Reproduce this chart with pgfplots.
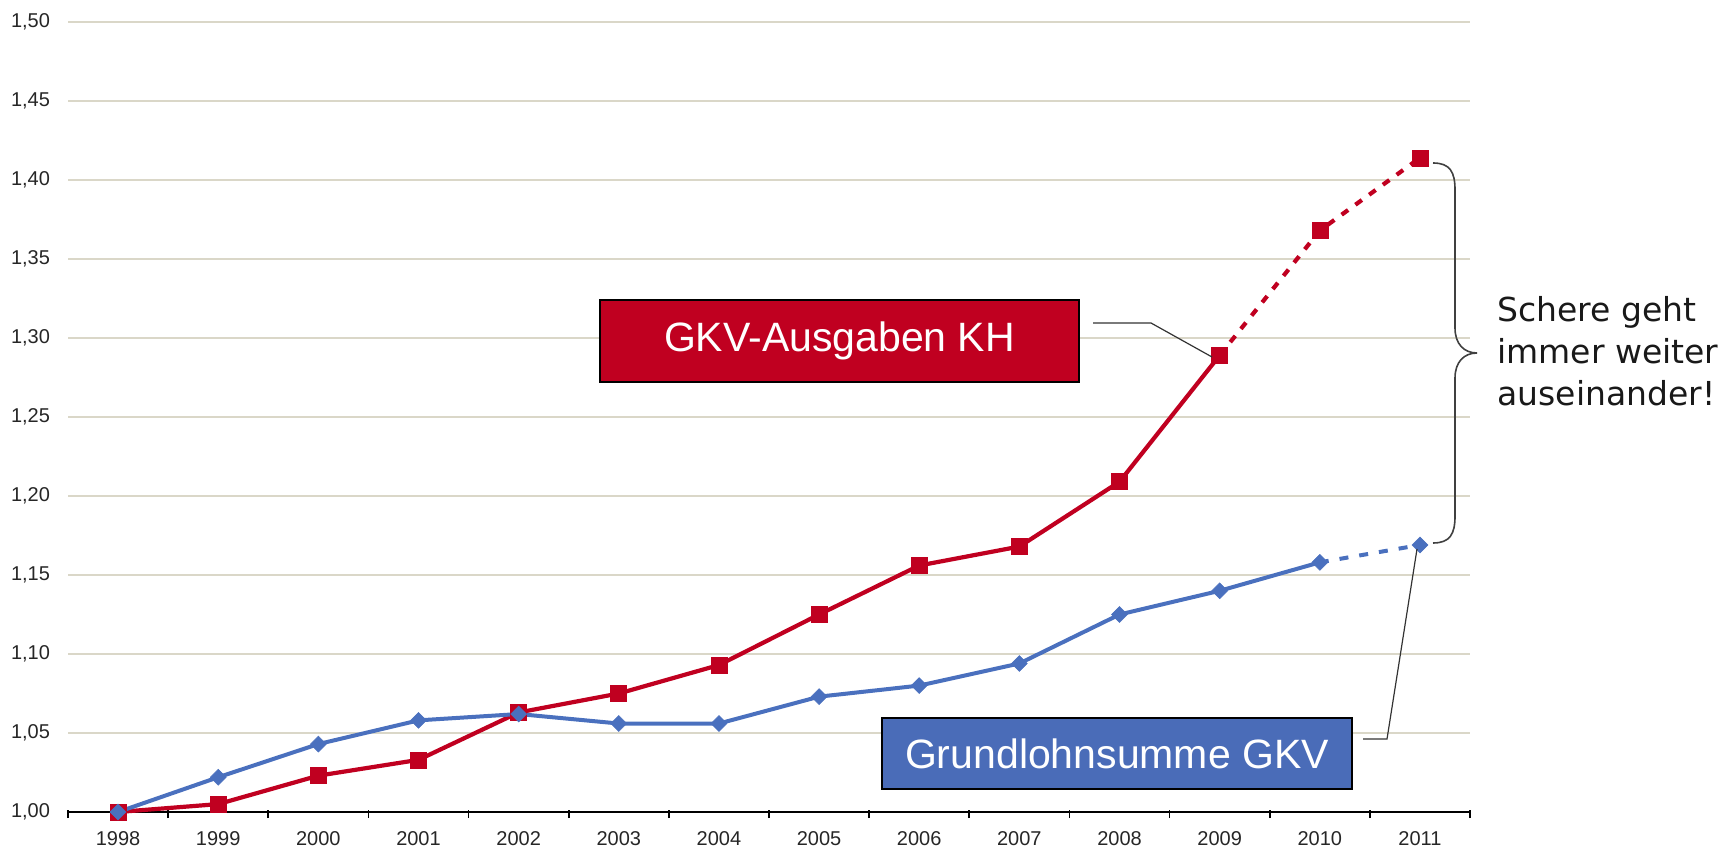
\documentclass[border=0pt]{standalone}
\usepackage{pgfplots}
\pgfplotsset{compat=1.18}
\usepackage{fontspec}
\setmainfont{Liberation Sans}
\newfontfamily\dejavu{DejaVu Sans}
\definecolor{khred}{HTML}{C00020}
\definecolor{glblue}{HTML}{4A70BE}
\definecolor{boxblue}{HTML}{4A6CB8}
\definecolor{gridc}{HTML}{DAD7C8}
\begin{document}
\begin{tikzpicture}
\path[use as bounding box] (0,0) rectangle (864pt,425.5pt);
\begin{axis}[
 at={(34pt,19.5pt)}, anchor=south west,
 scale only axis, width=701pt, height=395pt,
 xmin=-0.5, xmax=13.5, ymin=1, ymax=1.5,
 axis x line*=bottom, axis y line*=left,
 y axis line style={draw=none},
 x axis line style={black, line width=0.9pt, -},
 xtick={0,...,13},
 xticklabels={1998,1999,2000,2001,2002,2003,2004,2005,2006,2007,2008,2009,2010,2011},
 major x tick style={draw=none},
 minor xtick={-0.5,0.5,...,13.5},
 minor x tick style={black, line width=0.8pt, yshift=1pt},
 tick align=outside,
 minor tick length=4pt,
 major tick length=0pt,
 ytick={1.00,1.05,1.10,1.15,1.20,1.25,1.30,1.35,1.40,1.45,1.50},
 ymajorgrids, major y grid style={gridc, line width=0.8pt},
 ytick style={draw=none},
 yticklabel style={/pgf/number format/fixed, /pgf/number format/fixed zerofill, /pgf/number format/precision=2, /pgf/number format/use comma, xshift=-5.5pt},
 /pgf/number format/assume math mode=true,
 tick label style={font=\fontsize{10}{12}\selectfont, text=black!85},
 xticklabel style={yshift=-6pt},
 clip=false,
]
% GKV-Ausgaben KH
\addplot[khred, line width=2.1pt, mark=square*, mark size=4pt, mark options={solid, line width=0.3pt}]
 coordinates {(0,1.000)(1,1.005)(2,1.023)(3,1.033)(4,1.063)(5,1.075)(6,1.093)(7,1.125)(8,1.156)(9,1.168)(10,1.209)(11,1.289)};
\addplot[khred, line width=2.1pt, dash pattern=on 4pt off 4.5pt, mark=square*, mark size=4pt, mark options={solid, line width=0.3pt}, mark indices={2,3}]
 coordinates {(11,1.289)(12,1.368)(13,1.414)};
% Grundlohnsumme GKV
\addplot[glblue, line width=2pt, mark=square*, mark size=2.8pt, mark options={solid, rotate=45, line width=0.3pt}]
 coordinates {(0,1.000)(1,1.022)(2,1.043)(3,1.058)(4,1.062)(5,1.056)(6,1.056)(7,1.073)(8,1.080)(9,1.094)(10,1.125)(11,1.140)(12,1.158)};
\addplot[glblue, line width=2pt, dash pattern=on 4.5pt off 5.5pt, mark=square*, mark size=2.8pt, mark options={solid, rotate=45, line width=0.3pt}, mark indices={2}]
 coordinates {(12,1.158)(13,1.169)};
\end{axis}
\begin{scope}[x=0.5pt,y=-0.5pt,shift={(0pt,425.5pt)}]
 % red label box
 \draw[black, line width=0.6pt, fill=khred] (600,300) rectangle (1079,382);
 \node[text=white, font=\fontsize{20.5}{24}\selectfont] at (839.5,341) {GKV-Ausgaben KH};
 \draw[black!80, line width=0.6pt] (1093,323) -- (1151,323) -- (1212,357);
 % blue label box
 \draw[black, line width=0.6pt, fill=boxblue] (882,718) rectangle (1352,789);
 \node[text=white, font=\fontsize{20.5}{24}\selectfont] at (1117,754) {Grundlohnsumme GKV};
 \draw[black!80, line width=0.6pt] (1363,739) -- (1387,739) -- (1417,549);
 % brace
 \draw[black!75, line width=0.8pt] (1433,163) .. controls (1450,163) and (1455,172) .. (1455,190)
   -- (1455,328) .. controls (1455,344) and (1464,353) .. (1477,353)
   .. controls (1464,353) and (1455,362) .. (1455,378)
   -- (1455,516) .. controls (1455,534) and (1450,543) .. (1433,543);
 \node[anchor=base west, inner sep=0pt, font=\dejavu\fontsize{16.5}{20}\selectfont, text=black!90] at (1497,322) {Schere geht};
 \node[anchor=base west, inner sep=0pt, font=\dejavu\fontsize{16.5}{20}\selectfont, text=black!90] at (1497,364) {immer weiter};
 \node[anchor=base west, inner sep=0pt, font=\dejavu\fontsize{16.5}{20}\selectfont, text=black!90] at (1497,406) {auseinander!};
\end{scope}
\end{tikzpicture}
\end{document}
